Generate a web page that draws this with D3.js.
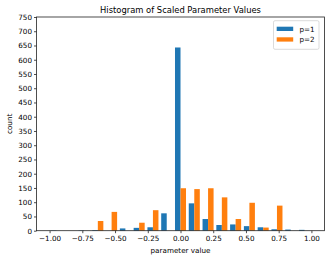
<!DOCTYPE html>
<html>
<head>
<meta charset="utf-8">
<script src="https://cdn.jsdelivr.net/npm/d3@7"></script>
<style>
body { margin: 0; background: #fff; }
svg { font-family: "DejaVu Sans", sans-serif; }
</style>
</head>
<body>
<svg id="chart" width="332" height="261"></svg>
<script>
// 19 bins from -1 to 1
var binEdges = [-1.0, -0.8947, -0.7895, -0.6842, -0.5789, -0.4737, -0.3684, -0.2632, -0.1579, -0.0526,
	0.0526, 0.1579, 0.2632, 0.3684, 0.4737, 0.5789, 0.6842, 0.7895, 0.8947, 1.0];
var seriesNames = ['p=1', 'p=2'];
var countsP1 = [1, 0, 1, 2, 0, 8, 10, 12, 61, 643, 96, 41, 20, 22, 16, 12, 5, 4, 3];
var countsP2 = [0, 0, 0, 34, 66, 0, 28, 72, 0, 149, 146, 149, 117, 41, 98, 11, 88, 0, 0];
var xTicks = [-1.0, -0.75, -0.5, -0.25, 0, 0.25, 0.5, 0.75, 1.0];
var yTicks = [0, 50, 100, 150, 200, 250, 300, 350, 400, 450, 500, 550, 600, 650, 700, 750];
var colors = ['#1f77b4', '#ff7f0e'];

var plot = { left: 36.5, right: 324.5, top: 17, bottom: 230.7 };
var fontSize = '7.2px';

var x = d3.scaleLinear().domain([-1.1, 1.1]).range([plot.left, plot.right]);
var y = d3.scaleLinear().domain([0, 750]).range([plot.bottom, plot.top]);

var svg = d3.select('#chart');

// Build bar records: each bin split into two side by side bars (rwidth 0.8).
var bars = [];
[countsP1, countsP2].forEach(function(counts, s) {
	counts.forEach(function(c, i) {
		var x0 = binEdges[i], w = binEdges[i + 1] - binEdges[i];
		bars.push({ s: s, a: x0 + 0.1 * w + s * 0.4 * w, b: x0 + 0.1 * w + (s + 1) * 0.4 * w, c: c });
	});
});

svg.append('g').selectAll('rect')
	.data(bars.filter(d => d.c > 0))
	.enter().append('rect')
	.attr('x', d => x(d.a))
	.attr('width', d => x(d.b) - x(d.a))
	.attr('y', d => y(d.c))
	.attr('height', d => y(0) - y(d.c))
	.style('fill', d => colors[d.s]);

// Axes.
var xAxis = svg.append('g')
	.attr('transform', 'translate(0,' + plot.bottom + ')')
	.call(d3.axisBottom(x).tickValues(xTicks).tickFormat(d3.format('.2f')).tickSize(2.5).tickSizeOuter(0).tickPadding(3));
var yAxis = svg.append('g')
	.attr('transform', 'translate(' + plot.left + ',0)')
	.call(d3.axisLeft(y).tickValues(yTicks).tickSize(2.5).tickSizeOuter(0).tickPadding(2));
[xAxis, yAxis].forEach(function(g) {
	g.select('.domain').remove();
	g.selectAll('text').style('font-size', fontSize).style('fill', '#000').style('font-family', '"DejaVu Sans", sans-serif');
	g.selectAll('line').style('stroke', '#000').style('stroke-width', 0.7);
});

// Frame.
svg.append('rect')
	.attr('x', plot.left).attr('y', plot.top)
	.attr('width', plot.right - plot.left).attr('height', plot.bottom - plot.top)
	.style('fill', 'none').style('stroke', '#222').style('stroke-width', 0.8);

// Labels.
svg.append('text')
	.attr('x', (plot.left + plot.right) / 2).attr('y', 12.5)
	.attr('text-anchor', 'middle').style('font-size', '8.4px')
	.text('Histogram of Scaled Parameter Values');
svg.append('text')
	.attr('x', (plot.left + plot.right) / 2).attr('y', 252.5)
	.attr('text-anchor', 'middle').style('font-size', fontSize)
	.text('parameter value');
svg.append('text')
	.attr('transform', 'translate(12,' + (plot.top + plot.bottom) / 2 + ')rotate(-90)')
	.attr('text-anchor', 'middle').style('font-size', fontSize)
	.text('count');

// Legend.
var legend = svg.append('g').attr('transform', 'translate(273.5,20.7)');
legend.append('rect')
	.attr('width', 45.5).attr('height', 28.6).attr('rx', 1.5)
	.style('fill', '#fff').style('fill-opacity', 0.8)
	.style('stroke', '#ccc').style('stroke-width', 0.7);
seriesNames.forEach(function(name, i) {
	legend.append('rect')
		.attr('x', 3.2).attr('y', 6 + i * 10.6)
		.attr('width', 16.5).attr('height', 4.3)
		.style('fill', colors[i]);
	legend.append('text')
		.attr('x', 26).attr('y', 10.9 + i * 10.6)
		.style('font-size', fontSize)
		.text(name);
});
</script>
</body>
</html>
